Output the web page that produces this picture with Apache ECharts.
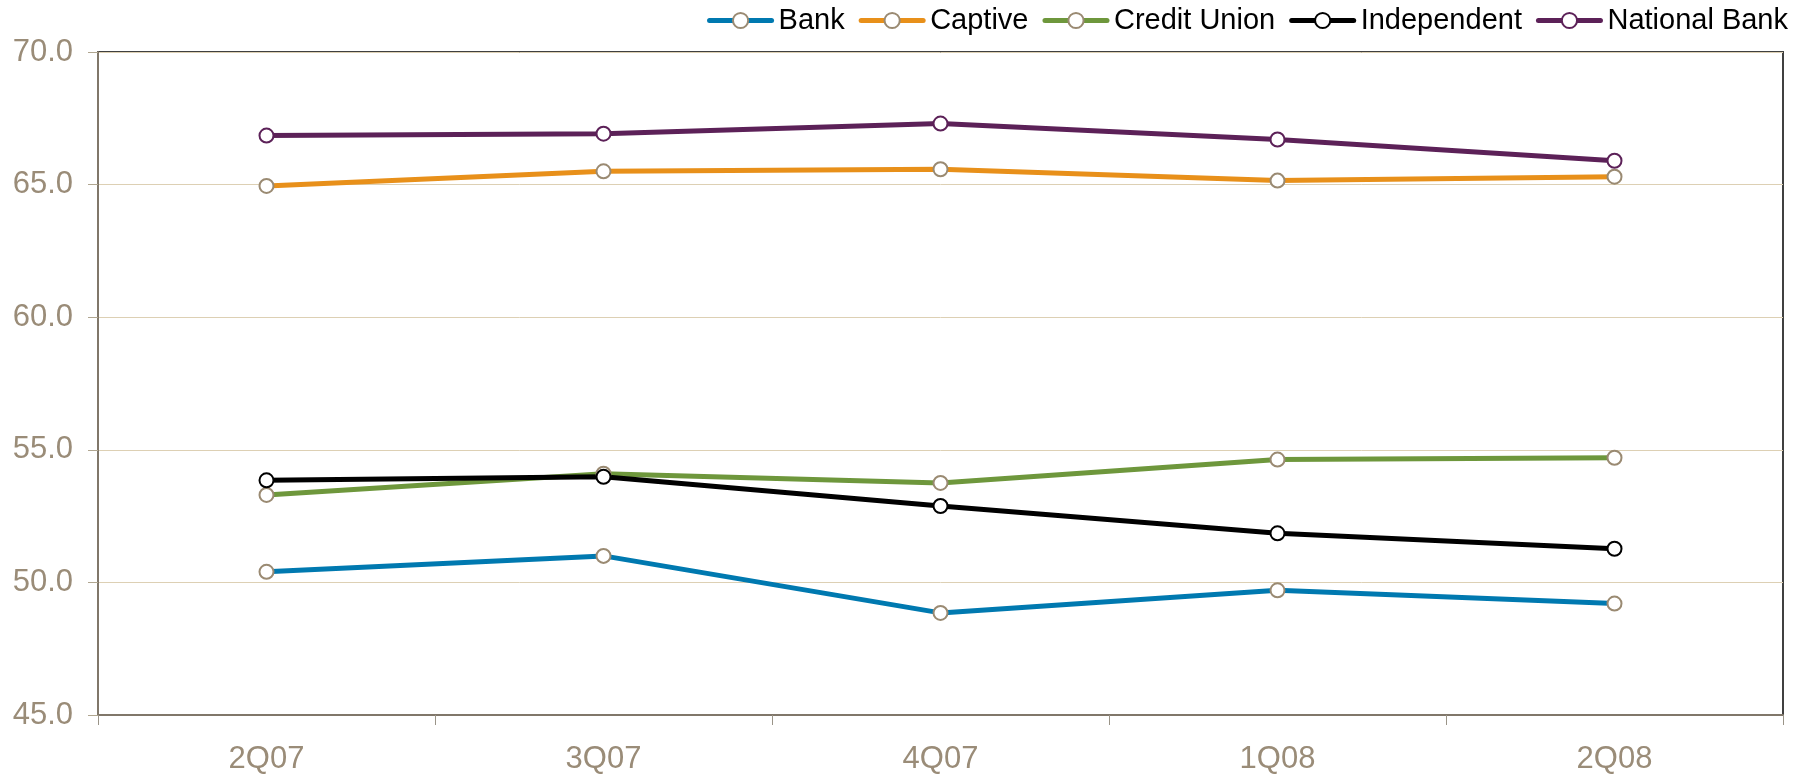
<!DOCTYPE html>
<html>
<head>
<meta charset="utf-8">
<script src="https://cdn.jsdelivr.net/npm/echarts@6/dist/echarts.min.js"></script>
<style>
  html, body { margin: 0; padding: 0; background: #fff; }
  #chart { width: 1815px; height: 778px; }
</style>
</head>
<body>
<div id="chart"></div>
<script>
var quarters = ['2Q07', '3Q07', '4Q07', '1Q08', '2Q08'];
var bank = [50.4, 51.0, 48.85, 49.7, 49.2];
var captive = [64.95, 65.5, 65.58, 65.15, 65.3];
var creditUnion = [53.3, 54.1, 53.75, 54.63, 54.7];
var independent = [53.85, 53.98, 52.88, 51.85, 51.27];
var nationalBank = [66.85, 66.92, 67.3, 66.7, 65.9];

var chartDom = document.getElementById('chart');
var myChart = echarts.init(chartDom);
var option;

function makeSeries(name, data, color, border) {
    return {
        name: name,
        type: 'line',
        data: data,
        symbol: 'circle',
        symbolSize: 14,
        lineStyle: { color: color, width: 5 },
        itemStyle: { color: '#fff', borderColor: border, borderWidth: 2 },
        z: 3
    };
}

option = {
    animation: false,
    grid: {
        left: 98,
        right: 32,
        top: 52,
        bottom: 63,
        show: true,
        borderColor: '#404040',
        borderWidth: 2
    },
    legend: {
        right: 22,
        top: 1,
        itemWidth: 62,
        itemHeight: 19,
        itemGap: 14,
        lineStyle: { width: 5, cap: 'round' },
        textStyle: { fontFamily: 'Liberation Sans', fontSize: 29, color: '#000', padding: [0, 0, 0, 2] },
        data: ['Bank', 'Captive', 'Credit Union', 'Independent', 'National Bank']
    },
    xAxis: {
        type: 'category',
        data: quarters,
        boundaryGap: true,
        axisLine: { lineStyle: { color: '#80776A', width: 2 } },
        axisTick: { show: true, length: 10, lineStyle: { color: '#9A9488', width: 1 } },
        axisLabel: { fontFamily: 'Liberation Sans', fontSize: 31, color: '#9A8C78', margin: 29 }
    },
    yAxis: {
        type: 'value',
        min: 45,
        max: 70,
        interval: 5,
        axisLine: { show: true, lineStyle: { color: '#80776A', width: 2 } },
        axisTick: { show: true, length: 10, lineStyle: { color: '#B0A690' } },
        axisLabel: {
            fontFamily: 'Liberation Sans', fontSize: 31, color: '#9A8C78', margin: 25,
            formatter: function (v) { return v.toFixed(1); }
        },
        splitLine: { lineStyle: { color: '#DDD0B4', width: 1 } }
    },
    series: [
        makeSeries('Bank', bank, '#0079B0', '#9A8A72'),
        makeSeries('Captive', captive, '#E8901A', '#9A8A72'),
        makeSeries('Credit Union', creditUnion, '#6E973C', '#9A8A72'),
        makeSeries('Independent', independent, '#000000', '#000000'),
        makeSeries('National Bank', nationalBank, '#5C2158', '#5C2158')
    ]
};

option && myChart.setOption(option);
</script>
</body>
</html>
